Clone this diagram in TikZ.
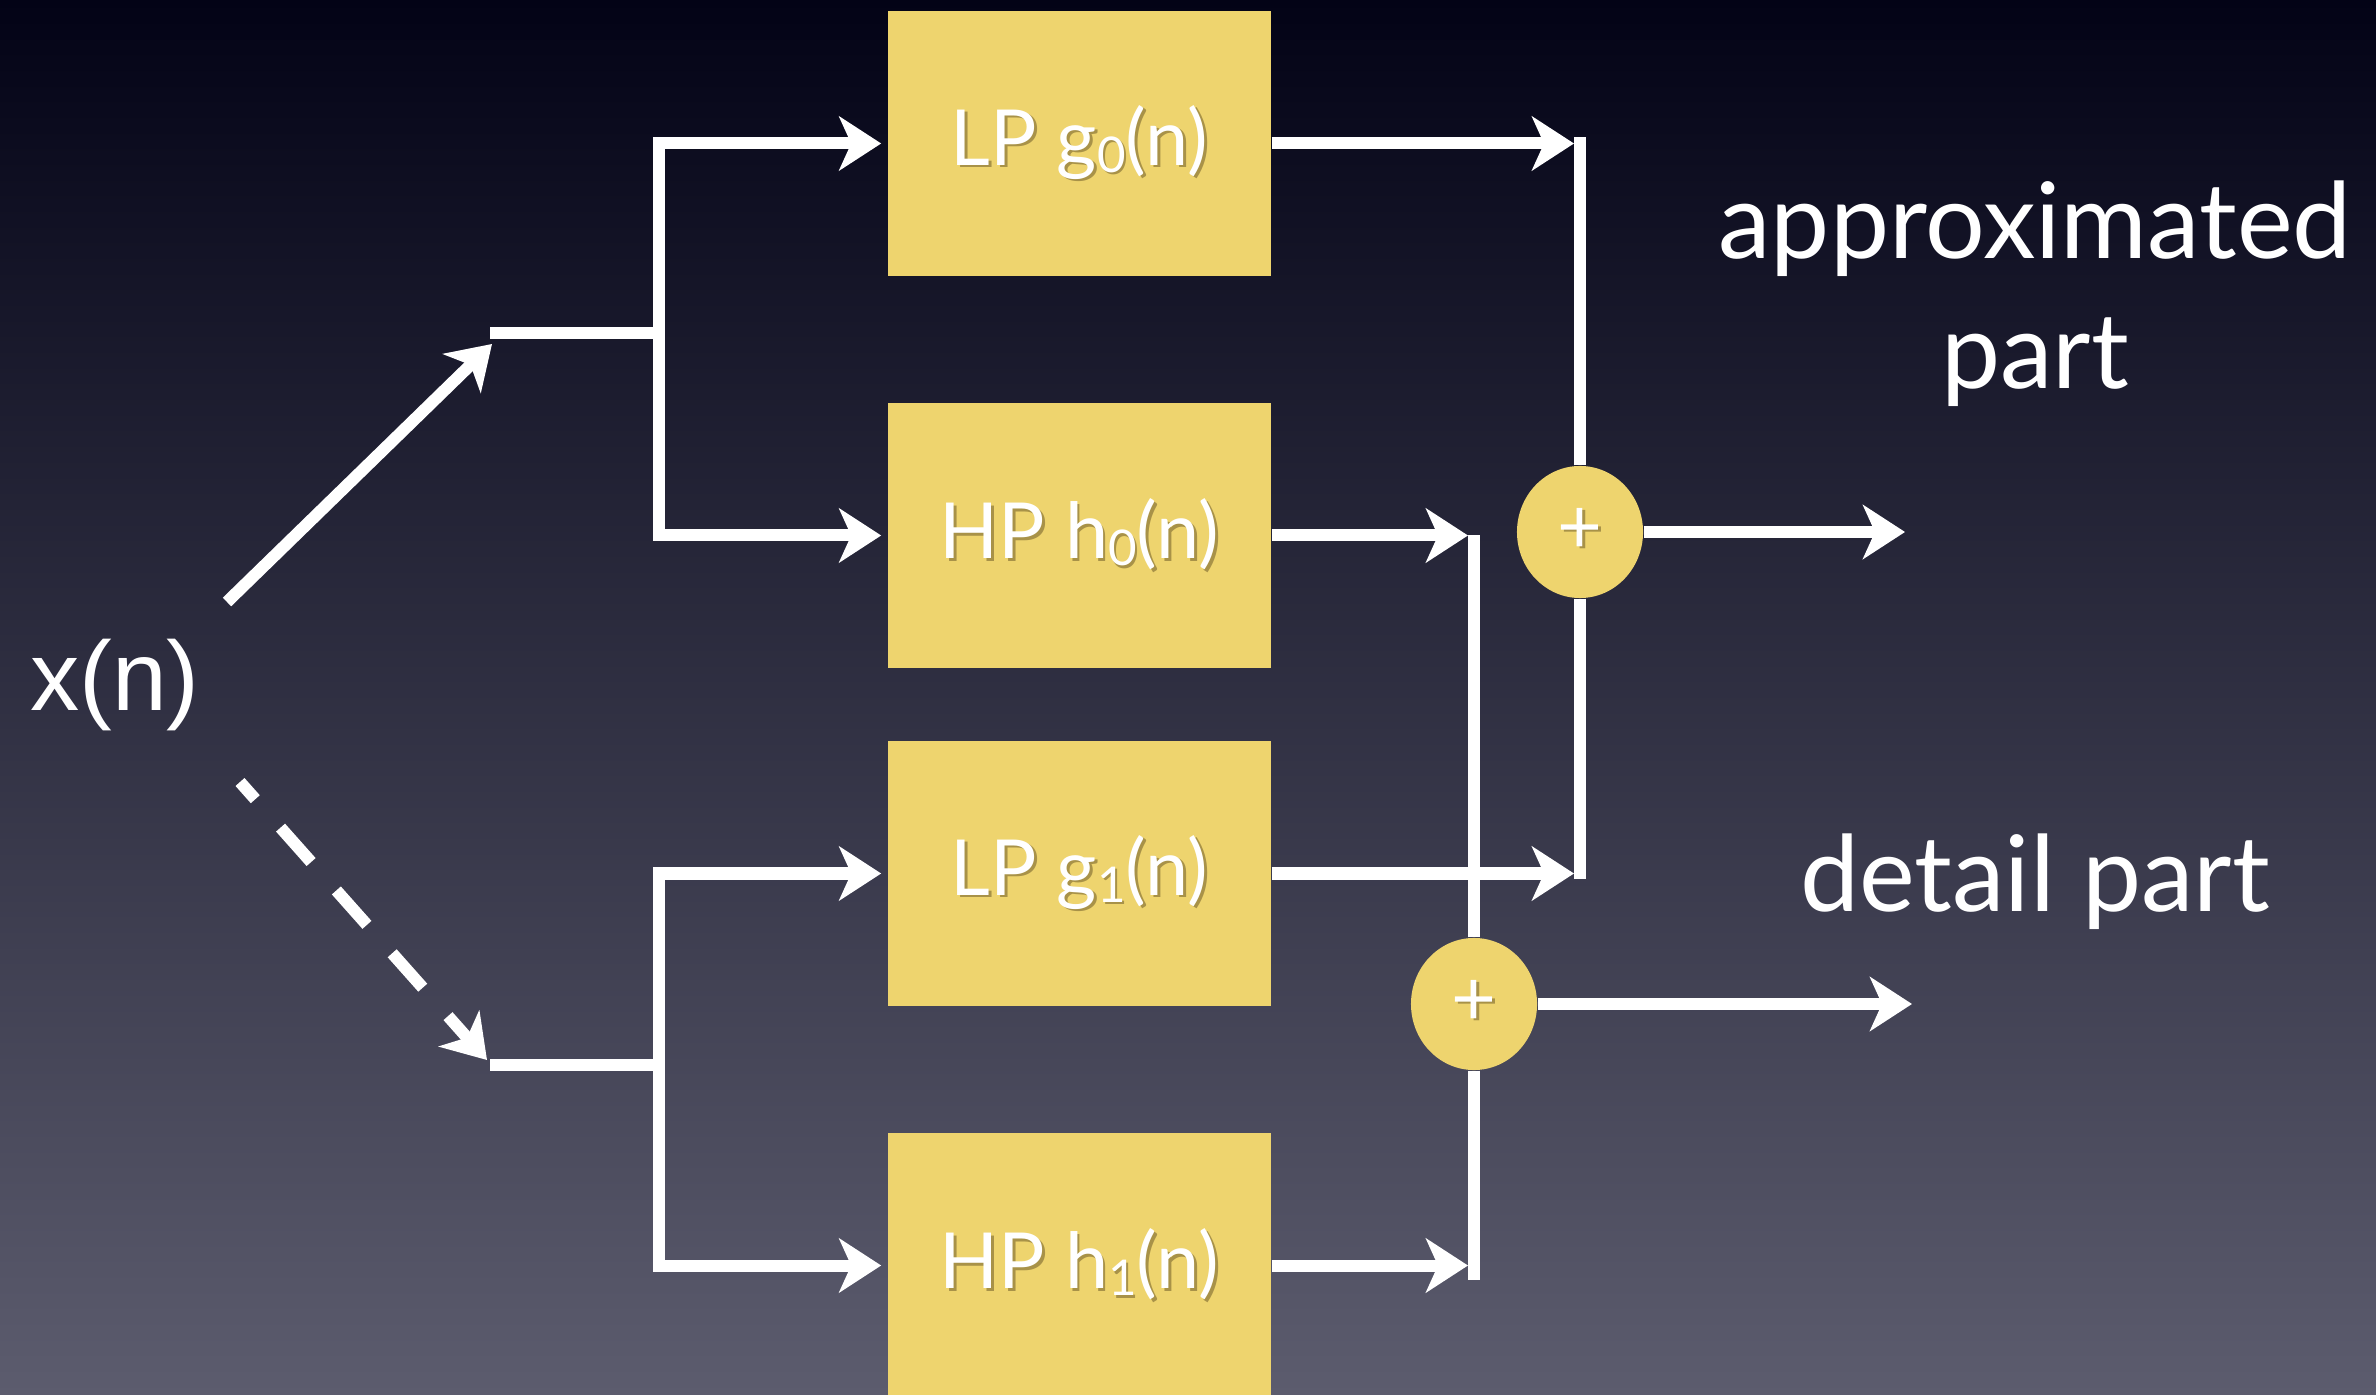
\documentclass[tikz,border=0pt]{standalone}
\usepackage{fontspec}
\setmainfont{Lato}
\newfontfamily\signalfont{Liberation Sans}
\usetikzlibrary{arrows.meta,shapes.geometric,calc}

\definecolor{bgtop}{RGB}{3,3,22}
\definecolor{bgbot}{RGB}{92,92,110}
\definecolor{filterfill}{RGB}{238,212,110}
\definecolor{textshade}{RGB}{168,146,72}

% white label with a soft shade under it
\newcommand{\shadowed}[1]{\makebox[0pt][l]{\hspace{0.7pt}\raisebox{-0.7pt}{\color{textshade}#1}}#1}
% small lowered index of a filter name
\newcommand{\filtidx}[1]{\raisebox{-2pt}{\fontsize{14}{15}\selectfont #1}}

\tikzset{
  filter/.style={rectangle, fill=filterfill, minimum width=3.83cm, minimum height=2.65cm,
    inner sep=0pt, text=white, font=\fontsize{22}{26}\selectfont},
  adder/.style={ellipse, fill=filterfill, minimum width=1.26cm, minimum height=1.32cm,
    inner sep=0pt, text=white, font=\fontsize{22}{24}\selectfont},
  wire/.style={draw=white, line width=0.12cm, line cap=butt, line join=miter},
  flow/.style={wire, -{Stealth[length=0.42cm, width=0.54cm, inset=0.12cm]}, shorten >=0.06cm},
  outlabel/.style={text=white, font=\fontsize{30}{37}\selectfont, inner sep=0pt, align=center},
  inlabel/.style={text=white, font=\signalfont\fontsize{28}{32}\selectfont, inner sep=0pt}
}

\begin{document}
\begin{tikzpicture}[x=0.01cm, y=-0.01cm]
  \useasboundingbox (0,0) rectangle (2376,1395);
  \clip (0,0) rectangle (2376,1395);
  \shade[top color=bgtop, bottom color=bgbot] (0,0) rectangle (2376,1395);

  % filter bank
  \node[filter] (g0) at (1079.5,143.5)  {\shadowed{LP g\filtidx{0}(n)}};
  \node[filter] (h0) at (1079.5,535.5)  {\shadowed{HP h\filtidx{0}(n)}};
  \node[filter] (g1) at (1079.5,873.5)  {\shadowed{LP g\filtidx{1}(n)}};
  \node[filter] (h1) at (1079.5,1265.5) {\shadowed{HP h\filtidx{1}(n)}};

  % summing junctions
  \node[adder] (sa) at (1580,532)  {\shadowed{+}};
  \node[adder] (sd) at (1474,1004) {\shadowed{+}};

  % input and output labels (base anchor sits on the last line)
  \node[inlabel, anchor=base] (x) at (115,711) {x(n)};
  \node[outlabel, anchor=base] (approx) at (2035,389) {approximated\\part};
  \node[outlabel, anchor=base] (detail) at (2035,911) {detail part};

  % branch points
  \coordinate (xs) at (227,602);
  \coordinate (j1) at (490,333);
  \coordinate (s1) at (659,333);
  \coordinate (xd) at (240,782);
  \coordinate (j2) at (490,1065);
  \coordinate (s2) at (659,1065);
  \coordinate (ao) at (1911,532);
  \coordinate (do) at (1918,1004);

  % input fan-out
  \draw[flow, shorten >=0pt] (xs) -- ($(j1)+(2,11)$);
  \draw[flow, shorten >=0pt, dash pattern=on 0.46cm off 0.38cm, dash phase=0.23cm]
    (xd) -- ($(j2)+(-3,-5)$);
  \draw[wire] (j1) -- (s1);
  \draw[wire] (j2) -- (s2);
  \draw[flow] (s1) |- (g0.west);
  \draw[flow] (s1) |- (h0.west);
  \draw[flow] (s2) |- (g1.west);
  \draw[flow] (s2) |- (h1.west);

  % approximated branch
  \draw[flow] (g0.east) -- (g0.east -| sa);
  \draw[wire] (sa.north) -- ($(g0.east -| sa)+(0,-6)$);
  \draw[flow] (g1.east) -- (g1.east -| sa);
  \draw[wire] (sa.south) -- ($(g1.east -| sa)+(0,6)$);
  \draw[flow] (sa.east) -- (ao);

  % detail branch
  \draw[flow] (h0.east) -- (h0.east -| sd);
  \draw[wire] (sd.north) -- (h0.east -| sd);
  \draw[flow] (h1.east) -- (h1.east -| sd);
  \draw[wire] (sd.south) -- ($(h1.east -| sd)+(0,14)$);
  \draw[flow] (sd.east) -- (do);
\end{tikzpicture}
\end{document}
